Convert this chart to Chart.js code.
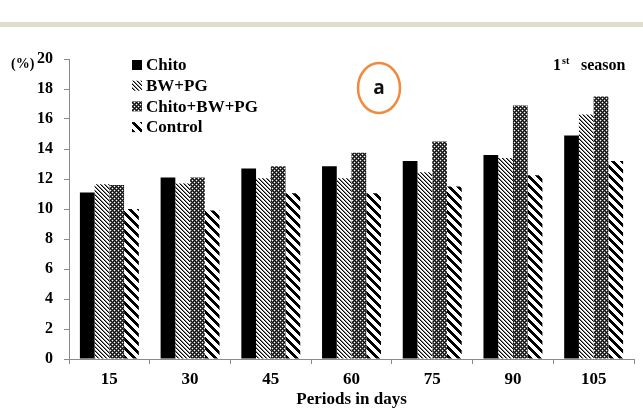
<!DOCTYPE html>
<html>
<head>
<meta charset="utf-8">
<script src="https://cdn.jsdelivr.net/npm/chart.js@4.4.0/dist/chart.umd.min.js"></script>
<style>
  html, body { margin: 0; padding: 0; background: #fff; }
  #wrap { width: 643px; height: 408px; position: relative; }
</style>
</head>
<body>
<div id="wrap"><canvas id="grafico" width="643" height="408"></canvas></div>
<script>
// dados (%)
const periodos = ['15', '30', '45', '60', '75', '90', '105'];
const chito = [11.1, 12.1, 12.7, 12.85, 13.2, 13.6, 14.9];
const bwpg = [11.65, 11.7, 12.05, 12.05, 12.45, 13.4, 16.3];
const chitoBwpg = [11.6, 12.1, 12.85, 13.75, 14.5, 16.9, 17.5];
const controle = [10.0, 9.9, 11.05, 11.05, 11.5, 12.25, 13.2];
const nomes = ['Chito', 'BW+PG', 'Chito+BW+PG', 'Control'];

const serif = "'Liberation Serif', 'Times New Roman', serif";

// padrões de preenchimento (hachuras)
function criarPadrao(tam, pintar) {
    const c = document.createElement('canvas');
    c.width = tam; c.height = tam;
    const g = c.getContext('2d');
    g.fillStyle = '#fff';
    g.fillRect(0, 0, tam, tam);
    for (let x = 0; x < tam; x++) {
        for (let y = 0; y < tam; y++) {
            const cor = pintar(x, y);
            if (cor) { g.fillStyle = cor; g.fillRect(x, y, 1, 1); }
        }
    }
    return g.createPattern(c, 'repeat');
}

const ctx = document.getElementById('grafico').getContext('2d');

const padraoBW = criarPadrao(4, (x, y) => {
    const d = ((x - y) % 4 + 4) % 4;
    return d === 0 ? '#000' : (d === 1 ? '#888' : null);
});
const padraoMix = criarPadrao(4, (x, y) => {
    if ((x === 0 && y === 0) || (x === 2 && y === 2)) return null;
    if ((x + y) % 2 === 1) return '#555';
    return '#111';
});
const padraoControle = criarPadrao(9, (x, y) => {
    const d = ((x - y) % 9 + 9) % 9;
    return d < 4 ? '#000' : null;
});

const cores = ['#000', padraoBW, padraoMix, padraoControle];

// extras desenhados sobre o canvas: faixa, legenda, rótulos
const extras = {
    id: 'extras',
    beforeDraw(chart) {
        const c = chart.ctx;
        c.save();
        c.fillStyle = '#fff';
        c.fillRect(0, 0, chart.width, chart.height);
        c.fillStyle = '#e1dccc';
        c.fillRect(0, 22, chart.width, 5);
        c.restore();
    },
    afterDraw(chart) {
        const c = chart.ctx;
        c.save();
        c.fillStyle = '#000';
        c.textBaseline = 'middle';

        // (%)
        c.font = 'bold 14px ' + serif;
        c.textAlign = 'left';
        c.fillText('(%)', 11, 64);

        // 1st season
        c.font = 'bold 16px ' + serif;
        c.fillText('1', 553, 66);
        c.font = 'bold 10px ' + serif;
        c.fillText('st', 562, 61);
        c.font = 'bold 16px ' + serif;
        c.fillText('season', 581, 66);

        // legenda
        chart.data.datasets.forEach((ds, i) => {
            const y = 65 + i * 20.7;
            c.fillStyle = ds.backgroundColor;
            c.fillRect(132, y - 5, 10, 10);
            c.fillStyle = '#000';
            c.font = 'bold 17px ' + serif;
            c.fillText(ds.label, 146, y + 1);
        });

        // círculo laranja "a"
        c.strokeStyle = '#f08a3e';
        c.lineWidth = 2.5;
        c.beginPath();
        c.ellipse(379, 88, 21, 25, 0, 0, Math.PI * 2);
        c.stroke();
        c.fillStyle = '#111';
        c.font = "bold 19px 'Open Sans', 'DejaVu Sans', sans-serif";
        c.textAlign = 'center';
        c.fillText('a', 379, 89);
        c.restore();
    }
};

new Chart(ctx, {
    type: 'bar',
    data: {
        labels: periodos,
        datasets: [chito, bwpg, chitoBwpg, controle].map((valores, i) => ({
            label: nomes[i],
            data: valores,
            backgroundColor: cores[i],
            borderWidth: 0,
            barPercentage: 1.0,
            categoryPercentage: 0.73
        }))
    },
    options: {
        responsive: false,
        animation: false,
        layout: { padding: { top: 59, right: 9, bottom: 0, left: 0 } },
        plugins: {
            legend: { display: false },
            tooltip: { enabled: false }
        },
        scales: {
            x: {
                grid: { offset: true, drawOnChartArea: false, drawTicks: true, tickLength: 5, color: '#8a8a8a' },
                border: { color: '#8a8a8a', width: 1 },
                ticks: { color: '#000', padding: 5, font: { family: serif, size: 17, weight: 'bold' } },
                title: {
                    display: true,
                    text: 'Periods in days',
                    color: '#000',
                    padding: { top: 0, bottom: 0 },
                    font: { family: serif, size: 17, weight: 'bold', lineHeight: 1 }
                },
                afterFit(scale) { scale.height = 49; }
            },
            y: {
                min: 0,
                max: 20,
                grid: { drawOnChartArea: false, drawTicks: true, tickLength: 5, color: '#8a8a8a' },
                border: { color: '#8a8a8a', width: 1 },
                ticks: { stepSize: 2, color: '#000', padding: 11, font: { family: serif, size: 16, weight: 'bold' } },
                afterFit(scale) { scale.width = 69; }
            }
        }
    },
    plugins: [extras]
});
</script>
</body>
</html>
